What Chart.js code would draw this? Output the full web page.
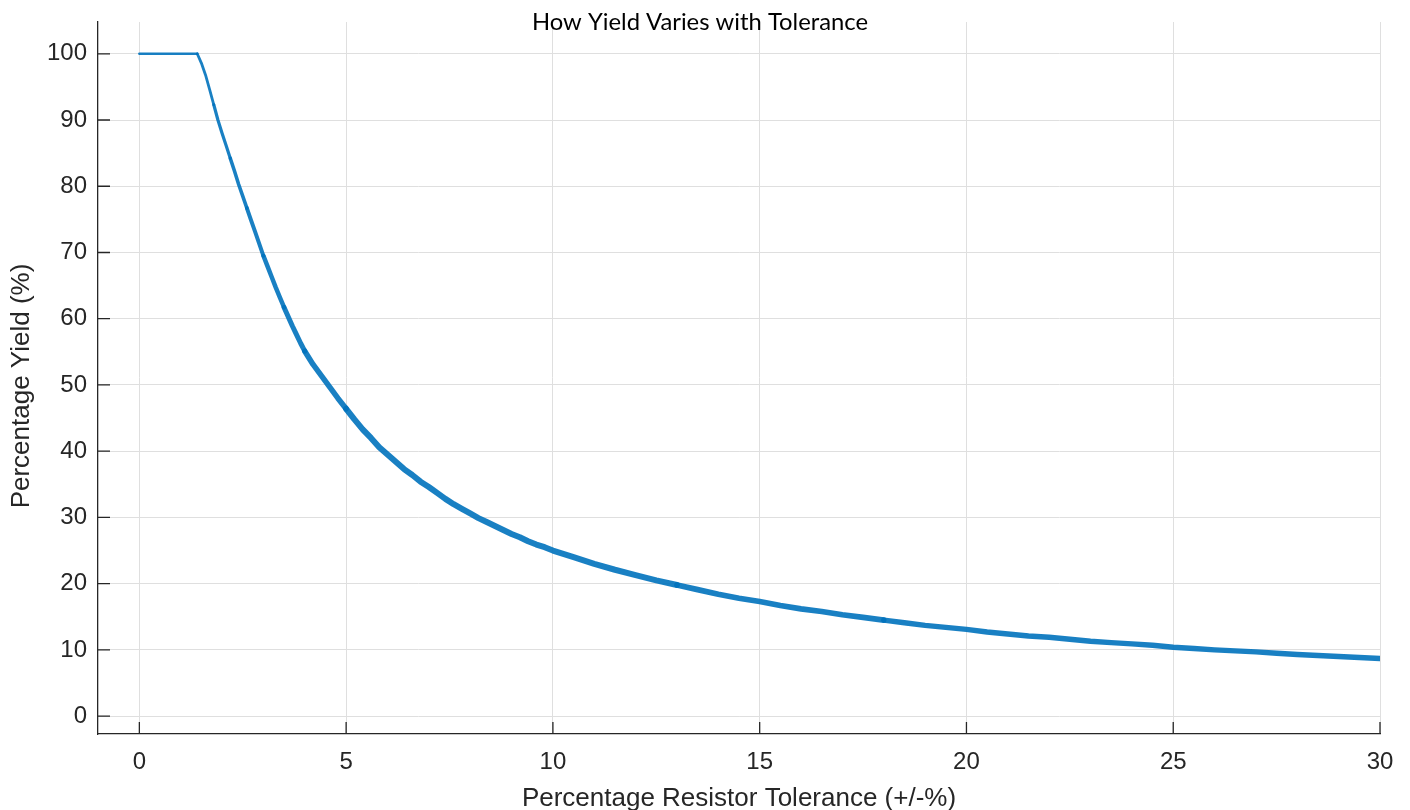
<!DOCTYPE html>
<html><head><meta charset="utf-8">
<script src="https://cdn.jsdelivr.net/npm/chart.js@4/dist/chart.umd.min.js"></script>
<style>html,body{margin:0;padding:0;background:#fff;overflow:hidden}canvas{display:block}</style>
</head><body>
<canvas id="c" width="1410" height="810"></canvas>
<script>
const chartTitle = 'How Yield Varies with Tolerance';
const xAxisLabel = 'Percentage Resistor Tolerance (+/-%)';
const yAxisLabel = 'Percentage Yield (%)';
const xTickValues = [0, 5, 10, 15, 20, 25, 30];
const yTickValues = [0, 10, 20, 30, 40, 50, 60, 70, 80, 90, 100];

const tolerance = [
  0, 1.4, 1.5, 1.6, 1.7, 1.8, 1.9, 2.0, 2.1, 2.2, 2.3, 2.4, 2.5, 2.6, 2.7, 2.8, 2.9,
  3.0, 3.1, 3.2, 3.3, 3.4, 3.5, 3.6, 3.7, 3.8, 3.9, 4.0,
  4.2, 4.4, 4.6, 4.8, 5.0, 5.2, 5.4, 5.6, 5.8, 6.0, 6.2, 6.4, 6.6, 6.8, 7.0,
  7.2, 7.4, 7.6, 7.8, 8.0, 8.2, 8.4, 8.6, 8.8, 9.0, 9.2, 9.4, 9.6, 9.8, 10.0,
  10.5, 11, 11.5, 12, 12.5, 13, 13.5, 14, 14.5, 15, 15.5, 16, 16.5, 17, 17.5,
  18, 18.5, 19, 19.5, 20, 20.5, 21, 21.5, 22, 22.5, 23, 23.5, 24, 24.5, 25,
  25.5, 26, 26.5, 27, 27.5, 28, 28.5, 29, 29.5, 30
];
const yieldPct = [
  100, 100, 98.6, 96.8, 94.6, 92.3, 90.0, 88.0, 86.1, 84.2, 82.3, 80.3, 78.5, 76.7, 74.9, 73.1, 71.3,
  69.5, 67.9, 66.3, 64.7, 63.2, 61.7, 60.3, 58.9, 57.6, 56.3, 55.1,
  53.1, 51.4, 49.7, 48.0, 46.4, 44.8, 43.3, 42.0, 40.6, 39.5, 38.4, 37.3, 36.4, 35.4, 34.6,
  33.7, 32.8, 32.0, 31.3, 30.6, 29.9, 29.3, 28.7, 28.1, 27.5, 27.0, 26.4, 25.9, 25.5, 25.0,
  24.0, 23.0, 22.1, 21.3, 20.5, 19.8, 19.1, 18.4, 17.8, 17.3, 16.7, 16.2, 15.8, 15.3, 14.9,
  14.5, 14.1, 13.7, 13.4, 13.1, 12.7, 12.4, 12.1, 11.9, 11.6, 11.3, 11.1, 10.9, 10.7, 10.4,
  10.2, 10.0, 9.85, 9.7, 9.5, 9.3, 9.15, 9.0, 8.85, 8.7
];

const points = tolerance.map((x, i) => ({ x: x, y: yieldPct[i] }));

const AXIS_COLOR = '#262626';
const SANS = '"Liberation Sans", Arial, Helvetica, sans-serif';

const innerTicks = {
  id: 'innerTicks',
  afterDraw(chart) {
    const { ctx, chartArea: a, scales: { x, y } } = chart;
    ctx.save();
    ctx.strokeStyle = AXIS_COLOR;
    ctx.lineWidth = 1.3;
    ctx.beginPath();
    x.ticks.forEach(t => { const px = x.getPixelForValue(t.value); ctx.moveTo(px, a.bottom); ctx.lineTo(px, a.bottom - 12); });
    y.ticks.forEach(t => { const py = y.getPixelForValue(t.value); ctx.moveTo(a.left, py); ctx.lineTo(a.left + 12, py); });
    ctx.stroke();
    ctx.restore();
  }
};

const textPlugin = {
  id: 'texts',
  afterDraw(chart) {
    const ctx = chart.ctx;
    ctx.save();
    ctx.font = '21px Lato, "Open Sans", sans-serif';
    const w = ctx.measureText(chartTitle).width;
    const size = 21 * 336 / w;
    ctx.font = size.toFixed(2) + 'px Lato, "Open Sans", sans-serif';
    ctx.fillStyle = '#000000';
    ctx.textAlign = 'center';
    ctx.textBaseline = 'alphabetic';
    ctx.fillText(chartTitle, 700, 30);
    // y-axis label
    ctx.translate(22, 386);
    ctx.rotate(-Math.PI / 2);
    ctx.font = '26px ' + SANS;
    ctx.fillStyle = AXIS_COLOR;
    ctx.textBaseline = 'middle';
    ctx.fillText(yAxisLabel, 0, 0);
    ctx.restore();
  }
};

// band thickness of the dotted curve (style only)
const bandWidths = [[1.4, 2.5], [1.8, 2.8], [2.2, 3.2], [2.6, 3.6], [3.0, 4.0], [3.5, 4.5], [4.0, 5.0], [5.0, 5.5], [13, 6.0], [18, 5.7], [31, 5.4]];

new Chart(document.getElementById('c').getContext('2d'), {
  type: 'scatter',
  data: {
    datasets: [{
      data: points,
      showLine: true,
      borderColor: 'rgba(0,114,189,0.9)',
      backgroundColor: '#0072BD',
      pointRadius: 0,
      borderWidth: 4,
      tension: 0,
      borderJoinStyle: 'round',
      borderCapStyle: 'round',
      segment: {
        borderWidth: c => {
          const x0 = c.p0.parsed.x;
          for (const [lim, w] of bandWidths) { if (x0 < lim) return w; }
          return 5.4;
        }
      }
    }]
  },
  options: {
    responsive: false,
    animation: false,
    devicePixelRatio: 1,
    layout: { padding: { top: 22, right: 30, left: 0, bottom: 0 } },
    plugins: { legend: { display: false }, tooltip: { enabled: false }, title: { display: false } },
    scales: {
      x: {
        type: 'linear', position: 'bottom', min: -1, max: 30,
        afterFit(s) { s.height = 76; },
        afterBuildTicks(s) { s.ticks = xTickValues.map(v => ({ value: v })); },
        grid: { color: '#dfdfdf', lineWidth: 1, drawTicks: false },
        border: { display: true, color: AXIS_COLOR, width: 1.3 },
        ticks: { font: { family: SANS, size: 24 }, color: AXIS_COLOR, padding: 14, maxRotation: 0 },
        title: { display: true, text: xAxisLabel, font: { family: SANS, size: 26 }, color: AXIS_COLOR, padding: { top: 0, bottom: -4 } }
      },
      y: {
        type: 'linear', position: 'left', min: -2.7, max: 104.8,
        afterFit(s) { s.width = 98; },
        afterBuildTicks(s) { s.ticks = yTickValues.map(v => ({ value: v })); },
        grid: { color: '#dfdfdf', lineWidth: 1, drawTicks: false },
        border: { display: true, color: AXIS_COLOR, width: 1.3 },
        ticks: { font: { family: SANS, size: 24, lineHeight: 0.85 }, color: AXIS_COLOR, padding: 11 },
        title: { display: false }
      }
    }
  },
  plugins: [innerTicks, textPlugin]
});
</script>
</body></html>
